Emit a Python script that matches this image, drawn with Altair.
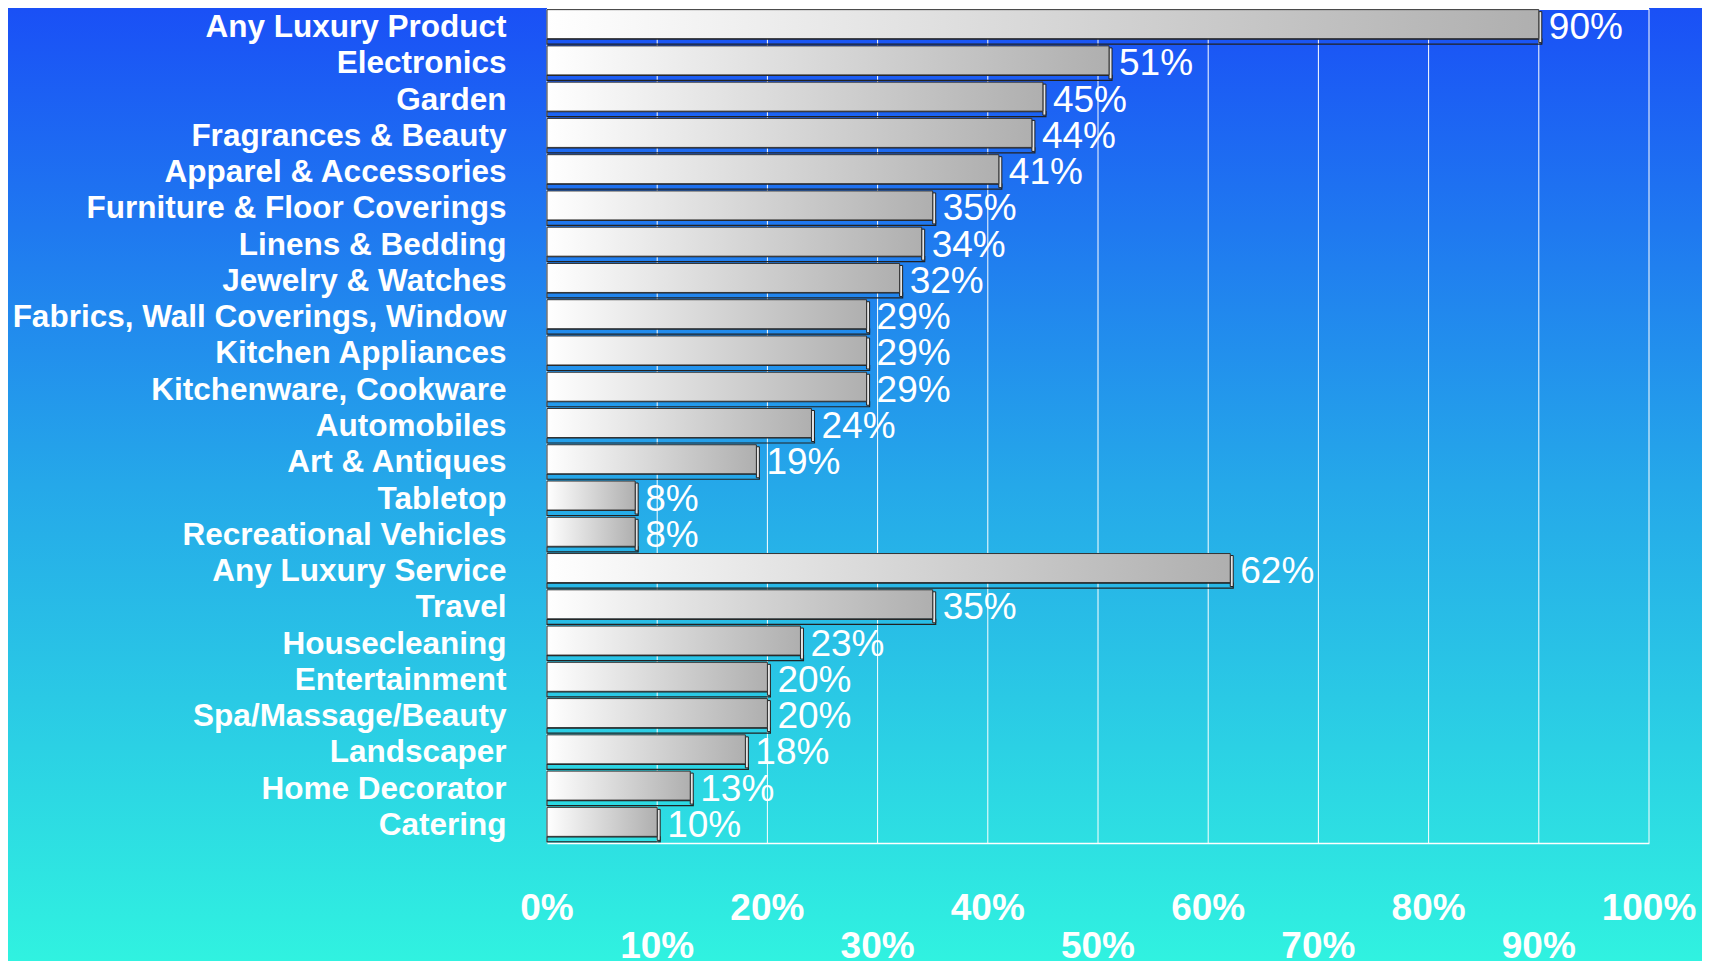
import altair as alt
import pandas as pd

categories = [
    "Any Luxury Product", "Electronics", "Garden", "Fragrances & Beauty",
    "Apparel & Accessories", "Furniture & Floor Coverings", "Linens & Bedding",
    "Jewelry & Watches", "Fabrics, Wall Coverings, Window", "Kitchen Appliances",
    "Kitchenware, Cookware", "Automobiles", "Art & Antiques", "Tabletop",
    "Recreational Vehicles", "Any Luxury Service", "Travel", "Housecleaning",
    "Entertainment", "Spa/Massage/Beauty", "Landscaper", "Home Decorator", "Catering",
]
values = [90, 51, 45, 44, 41, 35, 34, 32, 29, 29, 29, 24, 19, 8, 8,
          62, 35, 23, 20, 20, 18, 13, 10]

grid_ticks = [0, 10, 20, 30, 40, 50, 60, 70, 80, 90, 100]
ticks_top = [0, 20, 40, 60, 80, 100]
ticks_bottom = [10, 30, 50, 70, 90]
tick_labels_top = ["0%", "20%", "40%", "60%", "80%", "100%"]
tick_labels_bottom = ["10%", "30%", "50%", "70%", "90%"]

df = pd.DataFrame({"cat": categories, "v": values,
                   "lbl": [f"{v}%" for v in values]})
grid_df = pd.DataFrame({"v": grid_ticks})
top_df = pd.DataFrame({"v": ticks_top, "lbl": tick_labels_top})
bot_df = pd.DataFrame({"v": ticks_bottom, "lbl": tick_labels_bottom})

W, H = 1102, 834
PAD = {"left": 539, "top": 1, "right": 53, "bottom": 118}
FONT = "Liberation Sans"

xscale = alt.Scale(domain=[0, 100], nice=False, zero=True)
yscale = alt.Scale(domain=categories, paddingInner=0, paddingOuter=0)

xaxis = alt.Axis(labels=False, ticks=False, title=None, grid=False,
                 domain=True, domainColor="white", domainWidth=1.5, zindex=1)
yaxis = alt.Axis(title=None, ticks=False, domain=False, grid=False,
                 labelFont=FONT, labelFontSize=31.5,
                 labelFontWeight="bold", labelColor="white",
                 labelPadding=41, labelLimit=700, labelOffset=1, zindex=1)

X = alt.X("v:Q", stack=None, scale=xscale, axis=xaxis)
Y = alt.Y("cat:N", sort=categories, scale=yscale, axis=yaxis)

bg = alt.Chart(pd.DataFrame({"a": [0]})).mark_rect(
    fill=alt.Gradient(
        gradient="linear", x1=0, y1=0, x2=0, y2=1,
        stops=[alt.GradientStop(offset=0, color="#1a50f6"),
               alt.GradientStop(offset=0.5, color="#25a8e9"),
               alt.GradientStop(offset=1, color="#30f2e0")]),
    strokeWidth=0,
).encode(
    x=alt.value(-PAD["left"]), x2=alt.value(W + PAD["right"]),
    y=alt.value(-PAD["top"]), y2=alt.value(H + PAD["bottom"]),
)

grid = alt.Chart(grid_df).mark_rule(color="white", strokeWidth=1).encode(x=X)

top_edge = alt.Chart(pd.DataFrame({"a": [0]})).mark_rule(
    color="white", strokeWidth=2).encode(
    x=alt.value(0), x2=alt.value(W), y=alt.value(0),
)

base = alt.Chart(df)

floor = base.mark_bar(height=5, yOffset=14.5, xOffset=3, x2Offset=2,
                      fillOpacity=0, stroke="#222222", strokeWidth=1.2).encode(
    x=X, y=Y,
)

side = base.mark_bar(height=31, yOffset=0, x2Offset=3,
                     fill="#e4e4e4", stroke="#222222", strokeWidth=1).encode(
    x=X, x2="v:Q", y=Y,
)

face = base.mark_bar(
    height=29, yOffset=-3, stroke="#333333", strokeWidth=1,
    fill=alt.Gradient(
        gradient="linear", x1=0, y1=0, x2=1, y2=0,
        stops=[alt.GradientStop(offset=0, color="#ffffff"),
               alt.GradientStop(offset=1, color="#afafaf")]),
).encode(x=X, y=Y)

vals = base.mark_text(align="left", baseline="middle", dx=10, dy=1,
                      font=FONT, fontSize=37, color="white").encode(
    x=X, y=Y, text="lbl:N",
)

xl_top = alt.Chart(top_df).mark_text(
    align="center", baseline="middle", font=FONT, fontSize=37,
    fontWeight="bold", color="white").encode(
    x=X, y=alt.value(H + 66), text="lbl:N",
)
xl_bot = alt.Chart(bot_df).mark_text(
    align="center", baseline="middle", font=FONT, fontSize=37,
    fontWeight="bold", color="white").encode(
    x=X, y=alt.value(H + 104), text="lbl:N",
)

chart = alt.layer(bg, grid, top_edge, floor, side, face, vals,
                  xl_top, xl_bot).properties(
    width=W, height=H, padding=PAD,
    autosize=alt.AutoSizeParams(type="none"),
).configure_view(stroke=None).configure(background="#25a8e9")

chart.save("out.html", embed_options={"renderer": "svg", "actions": False})
